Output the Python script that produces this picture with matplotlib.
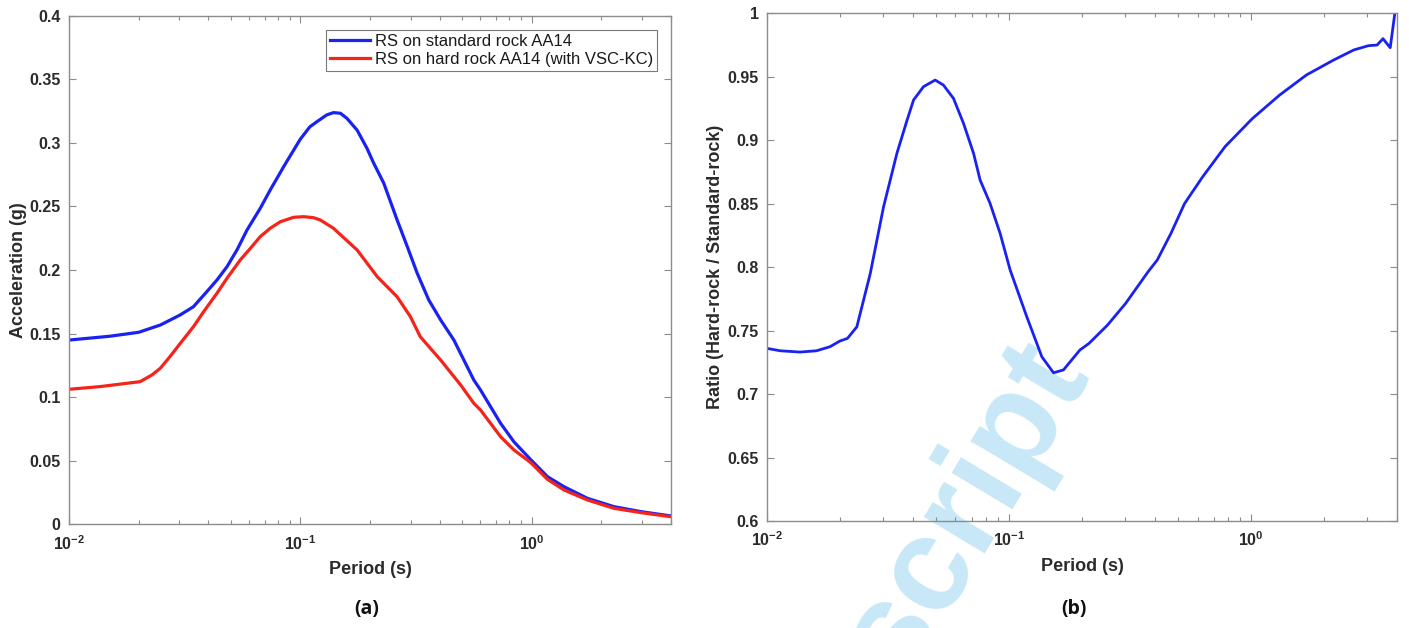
import numpy as np
import matplotlib
matplotlib.use('Agg')
import matplotlib.pyplot as plt
from matplotlib.ticker import FuncFormatter, LogLocator, MultipleLocator

# response spectra, AA14 on standard rock and on hard rock (VSC-KC)
period_std = [0.01, 0.015, 0.02, 0.0248, 0.0302, 0.0345, 0.0394, 0.0436, 0.0482,
              0.0532, 0.0588, 0.0671, 0.0741, 0.0847, 0.1, 0.110, 0.118, 0.130,
              0.139, 0.149, 0.159, 0.176, 0.194, 0.2076, 0.2294, 0.262, 0.290,
              0.320, 0.359, 0.404, 0.461, 0.509, 0.562, 0.601, 0.734, 0.838, 0.99,
              1.17, 1.38, 1.74, 2.27, 2.97, 4.0]
sa_std = [0.1450, 0.1480, 0.1511, 0.1568, 0.1647, 0.1712, 0.1830, 0.1922, 0.2027,
          0.2158, 0.2315, 0.2486, 0.2630, 0.2813, 0.3030, 0.3127, 0.3167, 0.3220,
          0.3238, 0.3233, 0.3193, 0.3100, 0.2958, 0.2840, 0.2683, 0.2394, 0.2184,
          0.1975, 0.1765, 0.1608, 0.1450, 0.1293, 0.1136, 0.1057, 0.0795, 0.0650, 0.0510,
          0.0376, 0.0297, 0.0206, 0.0140, 0.0101, 0.0067]

period_hard = [0.01, 0.0136, 0.0203, 0.0228, 0.0248, 0.0273, 0.0303, 0.0345, 0.0382,
               0.0436, 0.0482, 0.055, 0.0608, 0.0671, 0.0741, 0.0819, 0.0935, 0.1033,
               0.114, 0.122, 0.139, 0.176, 0.215, 0.262, 0.299, 0.330, 0.404, 0.493,
               0.562, 0.601, 0.734, 0.838, 0.99, 1.17, 1.38, 1.74, 2.27, 2.97, 4.0]
sa_hard = [0.1063, 0.1084, 0.1123, 0.1175, 0.1228, 0.1319, 0.1425, 0.1555, 0.1673,
           0.1818, 0.1936, 0.2080, 0.2171, 0.2263, 0.2329, 0.2380, 0.2415, 0.2420,
           0.2412, 0.2394, 0.2329, 0.2158, 0.1948, 0.1790, 0.1634, 0.1476, 0.1293, 0.1097,
           0.0953, 0.0900, 0.0690, 0.0586, 0.0487, 0.0355, 0.0271, 0.0193, 0.0127, 0.0093,
           0.0061]

# hard-rock / standard-rock ratio
period_ratio = [0.01, 0.01135, 0.01368, 0.016, 0.0182, 0.02, 0.0215, 0.0235, 0.0267,
                0.0303, 0.0344, 0.0379, 0.0403, 0.0443, 0.0495, 0.0535, 0.0589, 0.0648,
                0.0713, 0.0759, 0.0834, 0.0918, 0.101, 0.1183, 0.1365, 0.1525, 0.1676,
                0.196, 0.214, 0.255, 0.303, 0.375, 0.409, 0.466, 0.530, 0.629, 0.780,
                1.01, 1.31, 1.69, 2.19, 2.65, 3.05, 3.31, 3.5, 3.75, 3.95]
ratio = [0.736, 0.7341, 0.7331, 0.7341, 0.7373, 0.7418, 0.7439, 0.753, 0.795,
         0.8476, 0.8897, 0.9159, 0.9317, 0.9422, 0.9474, 0.9435, 0.933, 0.9133,
         0.8897, 0.8686, 0.8503, 0.8266, 0.7977, 0.7609, 0.7294, 0.7168, 0.719,
         0.7347, 0.740, 0.7544, 0.7715, 0.7964, 0.8056, 0.8266, 0.850, 0.871, 0.895,
         0.917, 0.9356, 0.9514, 0.9632, 0.9711, 0.9745, 0.975, 0.980, 0.9729, 1.005]

BLUE = '#1a22f2'
RED = '#f5231a'
AXCOL = '#8c8c8c'
TXT = '#2b2b2b'

plt.rcParams['font.family'] = ['Liberation Sans', 'DejaVu Sans']
plt.rcParams['mathtext.fontset'] = 'custom'
plt.rcParams['mathtext.rm'] = 'Liberation Sans:bold'
plt.rcParams['mathtext.it'] = 'Liberation Sans:bold'
plt.rcParams['mathtext.bf'] = 'Liberation Sans:bold'


def style_axes(ax, ymin, ymax, ystep):
    ax.set_xscale('log')
    ax.set_xlim(0.01, 4.0)
    ax.set_ylim(ymin, ymax)
    ax.yaxis.set_major_locator(MultipleLocator(ystep))
    ax.yaxis.set_major_formatter(FuncFormatter(lambda v, _: f"{v:g}"))
    ax.xaxis.set_major_locator(LogLocator(base=10, numticks=10))
    ax.xaxis.set_minor_locator(LogLocator(base=10, subs=np.arange(2, 10), numticks=20))
    ax.set_facecolor('none')
    for sp in ax.spines.values():
        sp.set_color(AXCOL)
        sp.set_linewidth(1.0)
    ax.tick_params(which='both', direction='in', top=True, right=True,
                   color=AXCOL, width=0.8, labelcolor=TXT, labelsize=11.5)
    ax.tick_params(which='major', length=5)
    ax.tick_params(which='minor', length=3)
    ax.tick_params(axis='y', pad=6)
    ax.tick_params(axis='x', pad=7)
    for lab in ax.get_xticklabels() + ax.get_yticklabels():
        lab.set_fontweight('bold')


fig = plt.figure(figsize=(14.09, 6.28), dpi=100)

ax1 = fig.add_axes([0.04897, 0.16481, 0.42725, 0.81019])
ax1.plot(period_std, sa_std, color=BLUE, lw=2.3, label='RS on standard rock AA14')
ax1.plot(period_hard, sa_hard, color=RED, lw=2.3, label='RS on hard rock AA14 (with VSC-KC)')
style_axes(ax1, 0, 0.4, 0.05)
ax1.set_xlabel('Period (s)', fontsize=13, fontweight='bold', color=TXT, labelpad=6)
ax1.set_ylabel('Acceleration (g)', fontsize=13, fontweight='bold', color=TXT, labelpad=2)
leg = ax1.legend(loc='upper right', bbox_to_anchor=(0.977, 0.972), fontsize=12,
                 handlelength=2.4, handletextpad=0.3, labelspacing=0.15,
                 borderpad=0.25, borderaxespad=0, fancybox=False, framealpha=1)
leg.get_frame().set_edgecolor('#7a7a7a')
leg.get_frame().set_linewidth(0.8)
for t in leg.get_texts():
    t.set_color('#1a1a1a')

ax2 = fig.add_axes([0.54436, 0.17038, 0.44713, 0.80844])
ax2.plot(period_ratio, ratio, color=BLUE, lw=2.0)
style_axes(ax2, 0.6, 1.0, 0.05)
ax2.set_xlabel('Period (s)', fontsize=13, fontweight='bold', color=TXT, labelpad=6)
ax2.set_ylabel('Ratio (Hard-rock / Standard-rock)', fontsize=13, fontweight='bold',
               color=TXT, labelpad=2.5)

fig.text(367 / 1409, 1 - 609 / 628, '(a)', ha='center', va='center', fontsize=14,
         fontweight='bold', family=['Open Sans', 'DejaVu Sans'], color='#111111')
fig.text(1074 / 1409, 1 - 609 / 628, '(b)', ha='center', va='center', fontsize=14,
         fontweight='bold', family=['Open Sans', 'DejaVu Sans'], color='#111111')

# light diagonal watermark behind the right panel
fig.text(0.775, 0.40, 'Accepted Manuscript', rotation=59, rotation_mode='anchor',
         ha='right', va='baseline', fontsize=96, fontweight='bold', color='#c8e8f7',
         zorder=-1)

fig.savefig('out.png', dpi=100)
